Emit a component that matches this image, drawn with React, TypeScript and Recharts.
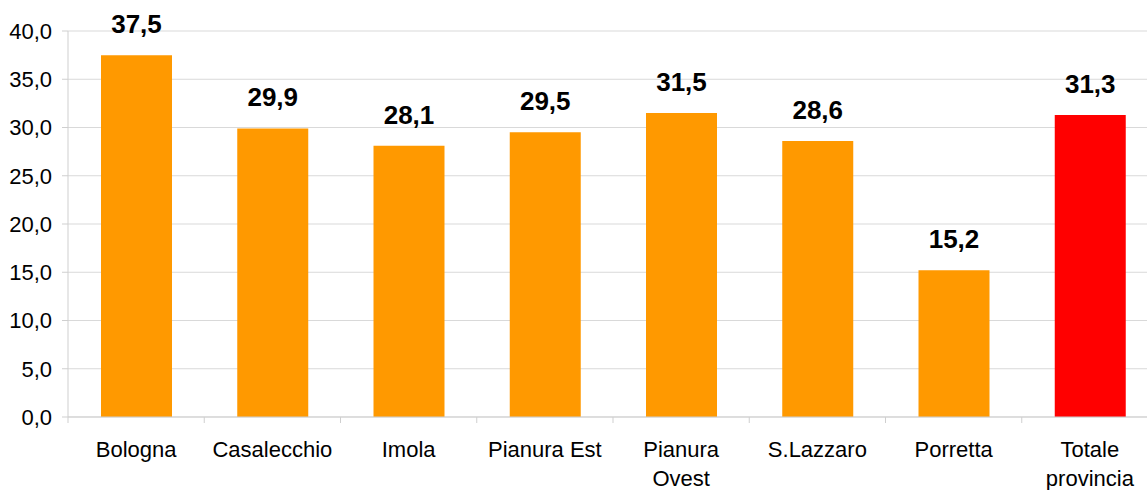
import React from 'react'
import { BarChart, Bar, XAxis, YAxis, CartesianGrid, Cell, LabelList } from 'recharts'

const categories = ['Bologna', 'Casalecchio', 'Imola', 'Pianura Est', 'Pianura\nOvest', 'S.Lazzaro', 'Porretta', 'Totale\nprovincia']
const values = [37.5, 29.9, 28.1, 29.5, 31.5, 28.6, 15.2, 31.3]
const colors = ['#ff9900', '#ff9900', '#ff9900', '#ff9900', '#ff9900', '#ff9900', '#ff9900', '#ff0000']
const yTicks = [0, 5, 10, 15, 20, 25, 30, 35, 40]

const data = categories.map((name, i) => ({ name, value: values[i] }))

const CHART_W = 1160
const CHART_H = 490
const Y_W = 68
const M_RIGHT = 2
const BAND = (CHART_W - Y_W - M_RIGHT) / categories.length
const FONT = '"Liberation Sans", Arial, sans-serif'

const fmt = (v: number) => v.toFixed(1).replace('.', ',')

const CategoryTick = (props: any) => {
  const { x, y, payload } = props
  const lines = String(payload.value).split('\n')
  const edge = x - BAND / 2
  return (
    <g>
      <line x1={edge} y1={y - 8} x2={edge} y2={y - 2} stroke="#cfcfcf" />
      <text x={x} y={y} textAnchor="middle" fontSize={22} fontFamily={FONT} fill="#000">
        {lines.map((l, i) => (
          <tspan key={i} x={x} dy={i === 0 ? 32 : 29}>
            {l}
          </tspan>
        ))}
      </text>
    </g>
  )
}

export default function App() {
  return (
    <div style={{ position: 'absolute', left: 0, top: 0, width: 1147, height: 490, overflow: 'hidden', background: '#fff' }}>
      <BarChart width={CHART_W} height={CHART_H} data={data} margin={{ top: 31, right: M_RIGHT, left: 0, bottom: 0 }}>
        <CartesianGrid vertical={false} stroke="#d9d9d9" />
        <XAxis
          dataKey="name"
          interval={0}
          height={73}
          axisLine={{ stroke: '#cfcfcf' }}
          tickLine={false}
          tick={<CategoryTick />}
        />
        <YAxis
          width={Y_W}
          domain={[0, 40]}
          ticks={yTicks}
          tickFormatter={fmt}
          axisLine={{ stroke: '#cfcfcf' }}
          tickLine={{ stroke: '#cfcfcf' }}
          tickSize={6}
          tickMargin={10}
          tick={{ fontSize: 22, fontFamily: FONT, fill: '#000' }}
        />
        <Bar dataKey="value" barSize={71} isAnimationActive={false}>
          {data.map((d, i) => (
            <Cell key={d.name} fill={colors[i]} />
          ))}
          <LabelList
            dataKey="value"
            position="top"
            offset={22}
            formatter={(v: any) => fmt(Number(v))}
            style={{ fontSize: 26, fontWeight: 'bold', fontFamily: FONT, fill: '#000' }}
          />
        </Bar>
      </BarChart>
    </div>
  )
}
